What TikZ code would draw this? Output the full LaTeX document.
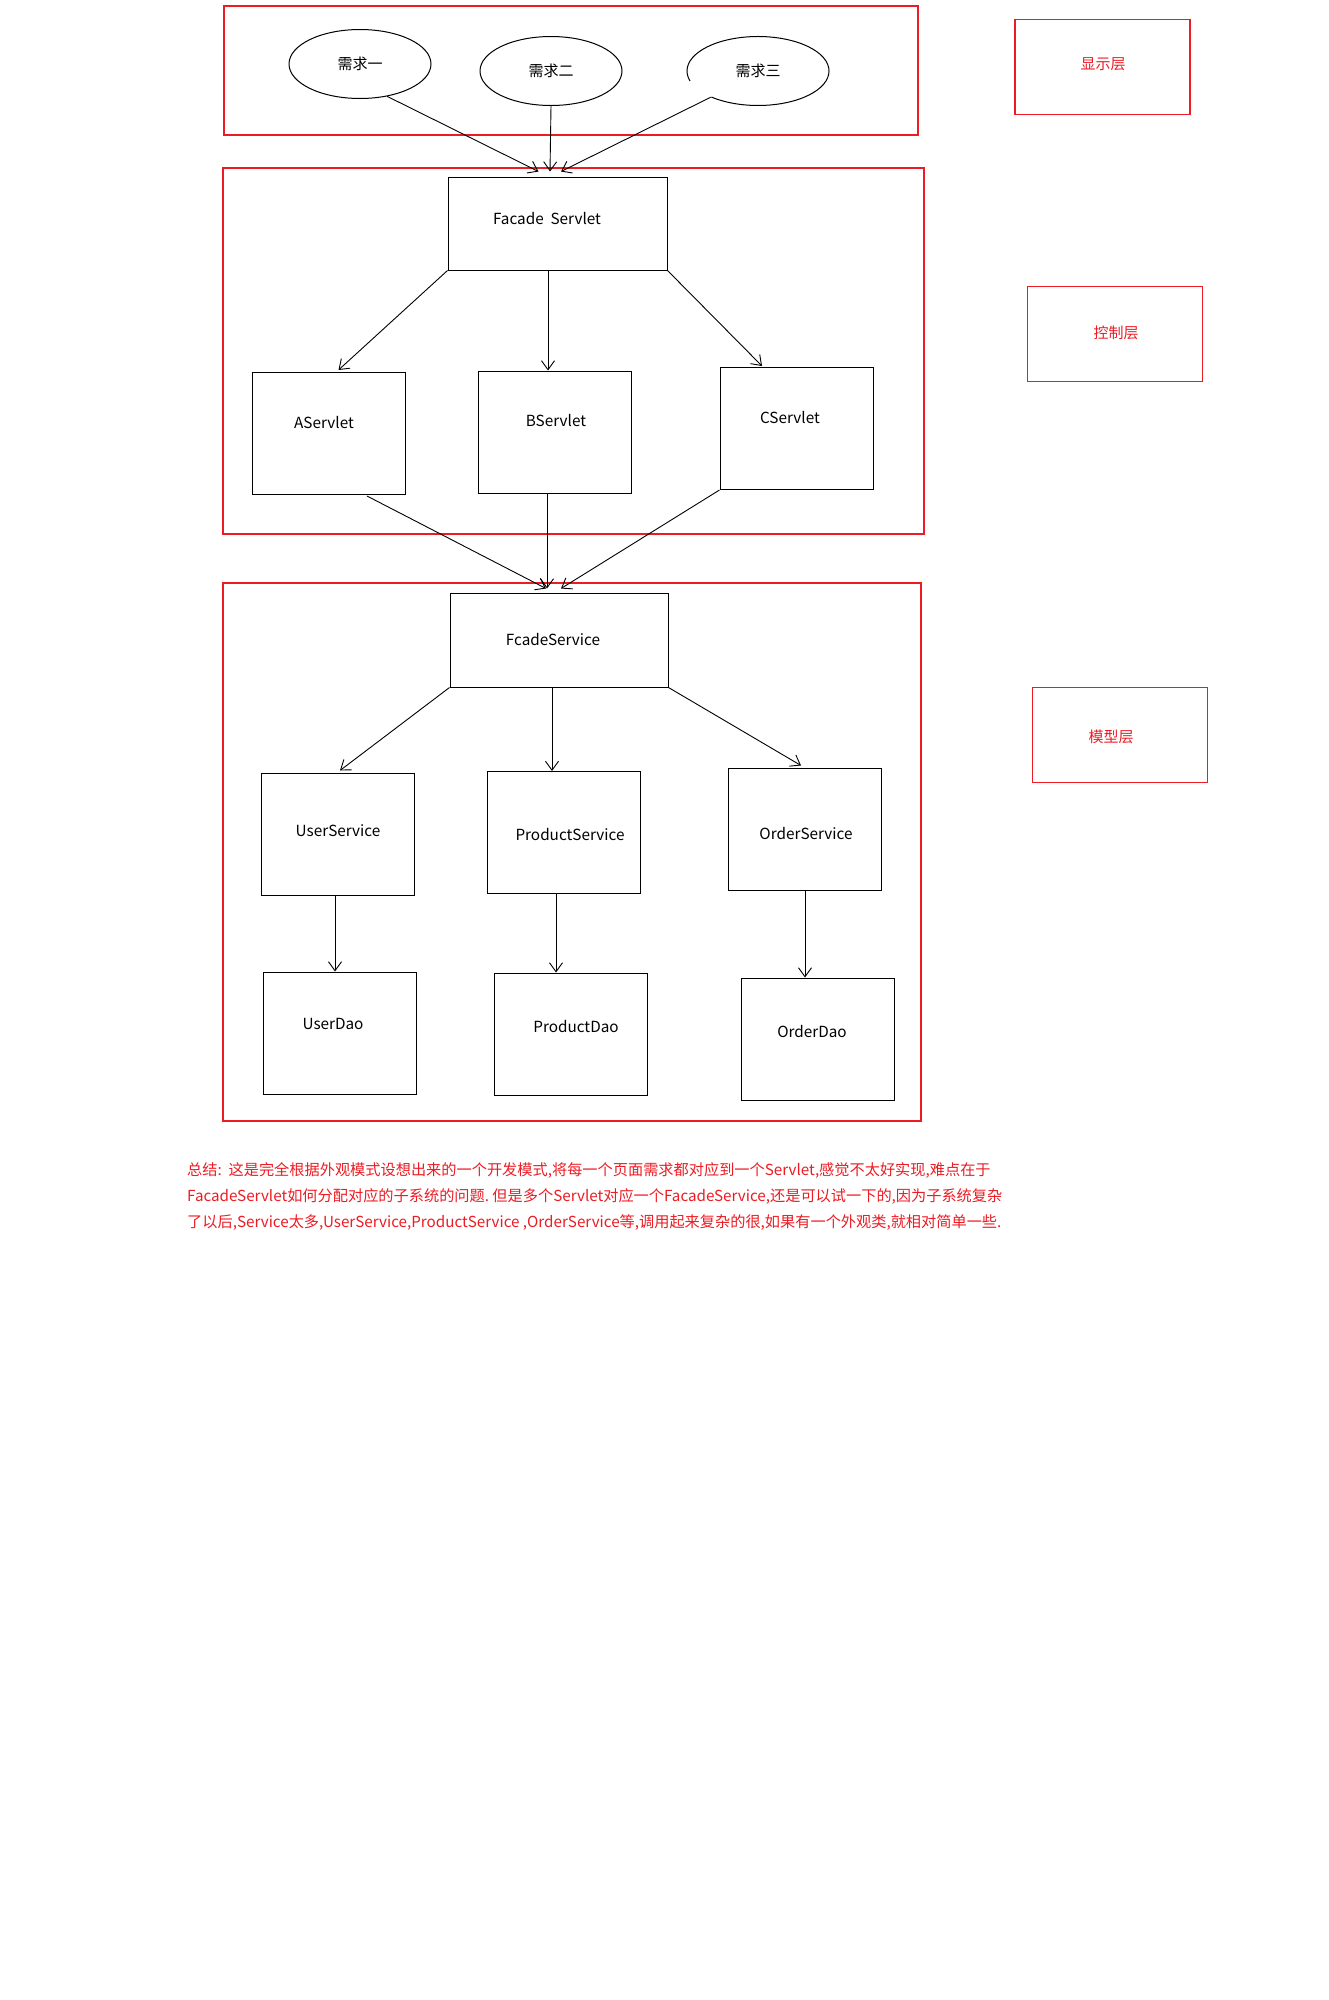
\documentclass[tikz,border=0pt]{standalone}
\usepackage{fontspec}
\setmainfont{Noto Sans CJK SC}
\usetikzlibrary{shapes.geometric,arrows.meta,calc}
\definecolor{lred}{RGB}{237,28,36}
\begin{document}
\begin{tikzpicture}[x=1pt,y=-1pt,
  region/.style={draw=lred,line width=1.1pt},
  lbox/.style={draw=lred,line width=1.1pt,minimum width=175pt,minimum height=95pt,inner sep=0pt},
  ltext/.style={text=lred,font=\fontsize{15}{18}\selectfont,inner sep=0pt},
  box/.style={draw=black,line width=1pt,minimum width=153pt,minimum height=122pt,inner sep=0pt},
  bigbox/.style={draw=black,line width=1pt,minimum width=219pt,minimum height=93pt,inner sep=0pt},
  btext/.style={font=\fontsize{15.3}{18}\selectfont,inner sep=0pt},
  req/.style={ellipse,line width=1pt,minimum width=142pt,minimum height=69pt,inner sep=0pt,font=\fontsize{15}{18}\selectfont},
  arr/.style={line width=0.9pt,-{Straight Barb[length=9pt,width=13pt,line width=0.9pt]}},
  note/.style={text=lred,font=\fontsize{15.2}{18}\selectfont,inner sep=0pt,anchor=west}
]
\useasboundingbox (0,0) rectangle (1328,2000);
\fill[white] (0,0) rectangle (1328,2000);

% layer regions
\draw[region] (224,6) rectangle (918,135);
\draw[region] (223,168) rectangle (924,534);
\draw[region] (223,583) rectangle (921,1121);

% requirement ellipses
\node[req,draw] (e1) at (360,64) {需求一};
\node[req,draw] (e2) at (551,71) {需求二};
\node[req] (e3) at (758,71) {需求三};
\draw[line width=1pt] ([shift={(197:71pt and 34.5pt)}]e3.center) arc[start angle=197,end angle=-131,x radius=71pt,y radius=34.5pt];

% control layer
\node[bigbox] (fs) at (557.5,223.5) {};
\node[btext] (fst) at (547,219) {Facade\ \ Servlet};
\node[box] (aS) at (328.5,433.5) {};
\node[btext] (aSt) at (324,423) {AServlet};
\node[box] (bS) at (554.5,432) {};
\node[btext] (bSt) at (556,421) {BServlet};
\node[box] (cS) at (796.5,428.5) {};
\node[btext] (cSt) at (790,418) {CServlet};

% model layer
\node[bigbox,minimum width=218pt,minimum height=94pt] (fcs) at (559,640) {};
\node[btext] (fcst) at (553,639) {FcadeService};
\node[box] (us) at (337.5,834) {};
\node[btext] (ust) at (338,831) {UserService};
\node[box] (ps) at (563.5,832.5) {};
\node[btext] (pst) at (570,834) {ProductService};
\node[box] (os) at (805,829) {};
\node[btext] (ost) at (806,833) {OrderService};
\node[box] (ud) at (340,1033) {};
\node[btext] (udt) at (333,1024) {UserDao};
\node[box] (pd) at (570.5,1034) {};
\node[btext] (pdt) at (576,1026) {ProductDao};
\node[box] (od) at (818,1039) {};
\node[btext] (odt) at (812,1031) {OrderDao};

% layer labels
\node[lbox] (l1) at (1102.5,67) {};
\node[ltext] (l1t) at (1103,64) {显示层};
\node[lbox] (l2) at (1115,334) {};
\node[ltext] (l2t) at (1116,333) {控制层};
\node[lbox] (l3) at (1120,735) {};
\node[ltext] (l3t) at (1111,737) {模型层};

% arrows: requirements -> facade servlet
\draw[arr] (e1.310) -- ($(fs.north)+(-19,-5)$);
\draw[arr] (e2.south) -- ($(fs.north)+(-7.5,-5)$);
\draw[arr] (e3.209) -- ($(fs.north)+(3.5,-5)$);

% facade servlet -> servlets
\draw[arr] (fs.south west) -- ($(aS.north)+(10,-2)$);
\draw[arr] ($(fs.south)+(-9.5,0)$) -- ($(bS.north)+(-6.5,0)$);
\draw[arr] (fs.south east) -- ($(cS.north)+(-34.5,-1)$);

% servlets -> facade service
\draw[arr] ($(aS.south)+(38.5,1)$) -- ($(fcs.north)+(-13,-4)$);
\draw[arr] ($(bS.south)+(-7.5,0)$) -- ($(fcs.north)+(-12,-4)$);
\draw[arr] (cS.south west) -- ($(fcs.north)+(2,-4)$);

% facade service -> services
\draw[arr] (fcs.south west) -- ($(us.north)+(2.5,-2)$);
\draw[arr] ($(fcs.south)+(-7,0)$) -- ($(ps.north)+(-11.5,0)$);
\draw[arr] (fcs.south east) -- ($(os.north)+(-4,-2)$);

% services -> daos
\draw[arr] ($(us.south)+(-2.5,0)$) -- ($(ud.north)+(-5,0)$);
\draw[arr] ($(ps.south)+(-7.5,0)$) -- ($(pd.north)+(-14.5,0)$);
\draw[arr] (os.south) -- ($(od.north)+(-13,0)$);

% summary note
\node[note] (n1) at (187,1170) {总结:\ \ 这是完全根据外观模式设想出来的一个开发模式,将每一个页面需求都对应到一个Servlet,感觉不太好实现,难点在于};
\node[note] (n2) at (187,1196) {FacadeServlet如何分配对应的子系统的问题.\ 但是多个Servlet对应一个FacadeService,还是可以试一下的,因为子系统复杂};
\node[note] (n3) at (187,1223) {了以后,Service太多,UserService,ProductService\ ,OrderService等,调用起来复杂的很,如果有一个外观类,就相对简单一些.};
\end{tikzpicture}
\end{document}
